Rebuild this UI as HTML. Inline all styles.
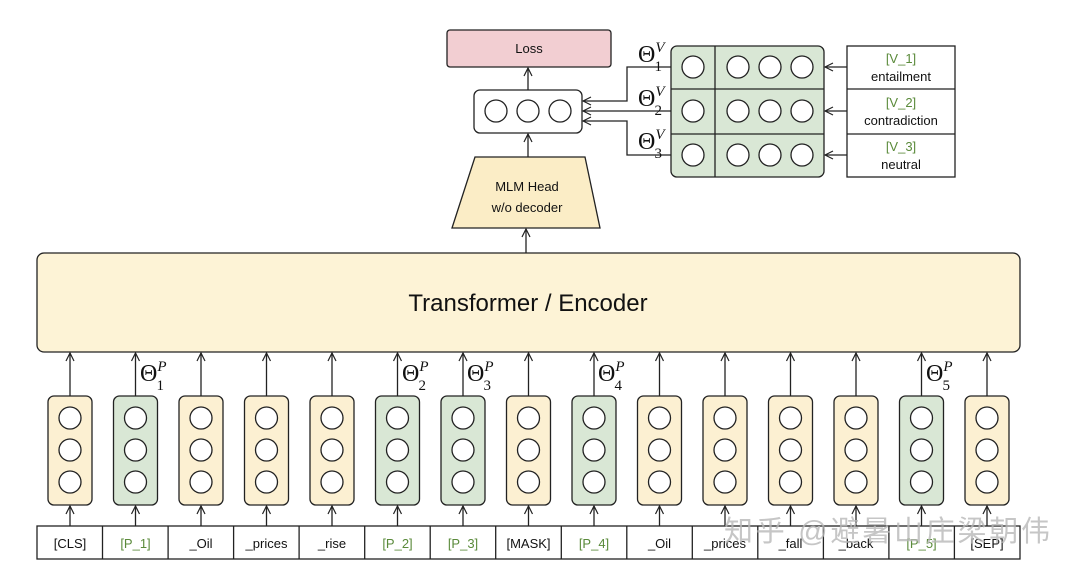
<!DOCTYPE html>
<html><head><meta charset="utf-8"><style>
html,body{margin:0;padding:0;background:#fff;}
svg{display:block;}
text{font-family:"Liberation Sans",sans-serif;fill:#111;}
.th{font-family:"Liberation Serif",serif;font-size:24px;}
.g{fill:#5a8a3a;}
</style></head><body>
<svg width="1080" height="573" viewBox="0 0 1080 573" xmlns="http://www.w3.org/2000/svg">
<defs>
<marker id="a" markerWidth="10" markerHeight="10" refX="9" refY="5" orient="auto" markerUnits="userSpaceOnUse">
<path d="M1,1 L9,5 L1,9" fill="none" stroke="#222" stroke-width="1.2"/>
</marker>
<g id="cy">
<rect x="-22" y="396" width="44" height="109" rx="6" fill="#fcf0d2" stroke="#222" stroke-width="1.3"/>
<circle cx="0" cy="418" r="11" fill="#fff" stroke="#222" stroke-width="1.3"/>
<circle cx="0" cy="450" r="11" fill="#fff" stroke="#222" stroke-width="1.3"/>
<circle cx="0" cy="482" r="11" fill="#fff" stroke="#222" stroke-width="1.3"/>
<line x1="0" y1="396" x2="0" y2="353" stroke="#222" stroke-width="1.3" marker-end="url(#a)"/>
<line x1="0" y1="526" x2="0" y2="506" stroke="#222" stroke-width="1.3" marker-end="url(#a)"/>
</g>
<g id="cg">
<rect x="-22" y="396" width="44" height="109" rx="6" fill="#d9e7d5" stroke="#222" stroke-width="1.3"/>
<circle cx="0" cy="418" r="11" fill="#fff" stroke="#222" stroke-width="1.3"/>
<circle cx="0" cy="450" r="11" fill="#fff" stroke="#222" stroke-width="1.3"/>
<circle cx="0" cy="482" r="11" fill="#fff" stroke="#222" stroke-width="1.3"/>
<line x1="0" y1="396" x2="0" y2="353" stroke="#222" stroke-width="1.3" marker-end="url(#a)"/>
<line x1="0" y1="526" x2="0" y2="506" stroke="#222" stroke-width="1.3" marker-end="url(#a)"/>
</g>
</defs>
<g stroke="#222" stroke-width="1.3">
<rect x="447" y="30" width="164" height="37" rx="3" fill="#f2ced2"/>
<rect x="474" y="90" width="108" height="43" rx="6" fill="#fff"/>
<circle cx="496" cy="111" r="11" fill="#fff"/>
<circle cx="528" cy="111" r="11" fill="#fff"/>
<circle cx="560" cy="111" r="11" fill="#fff"/>
<line x1="528" y1="90" x2="528" y2="68" marker-end="url(#a)"/>
<path d="M475,157 L585,157 L600,228 L452,228 Z" fill="#fbedc6"/>
<line x1="528" y1="157" x2="528" y2="134" marker-end="url(#a)"/>
<line x1="526" y1="253" x2="526" y2="229" marker-end="url(#a)"/>
<rect x="671" y="46" width="153" height="131" rx="6" fill="#d9e7d5"/>
<line x1="715" y1="46" x2="715" y2="177"/>
<line x1="671" y1="89" x2="824" y2="89"/>
<line x1="671" y1="134" x2="824" y2="134"/>
<rect x="847" y="46" width="108" height="131" fill="#fff"/>
<line x1="847" y1="89" x2="955" y2="89"/>
<line x1="847" y1="134" x2="955" y2="134"/>
<line x1="847" y1="67" x2="825" y2="67" marker-end="url(#a)"/>
<line x1="847" y1="111" x2="825" y2="111" marker-end="url(#a)"/>
<line x1="847" y1="155" x2="825" y2="155" marker-end="url(#a)"/>
<polyline points="671,67 627,67 627,101 583,101" fill="none" marker-end="url(#a)"/>
<line x1="671" y1="111" x2="583" y2="111" marker-end="url(#a)"/>
<polyline points="671,155 627,155 627,121 583,121" fill="none" marker-end="url(#a)"/>
<rect x="37" y="253" width="983" height="99" rx="7" fill="#fdf3d6"/>
</g>
<g fill="#fff" stroke="#222" stroke-width="1.3">
<circle cx="693" cy="67" r="11"/><circle cx="738" cy="67" r="11"/><circle cx="770" cy="67" r="11"/><circle cx="802" cy="67" r="11"/>
<circle cx="693" cy="111" r="11"/><circle cx="738" cy="111" r="11"/><circle cx="770" cy="111" r="11"/><circle cx="802" cy="111" r="11"/>
<circle cx="693" cy="155" r="11"/><circle cx="738" cy="155" r="11"/><circle cx="770" cy="155" r="11"/><circle cx="802" cy="155" r="11"/>
</g>
<text x="529" y="53" font-size="13" text-anchor="middle">Loss</text>
<text x="527" y="191" font-size="13" text-anchor="middle">MLM Head</text>
<text x="527" y="212" font-size="13" text-anchor="middle">w/o decoder</text>
<text x="901" y="63" font-size="13" text-anchor="middle" class="g">[V_1]</text>
<text x="901" y="81" font-size="13" text-anchor="middle">entailment</text>
<text x="901" y="107" font-size="13" text-anchor="middle" class="g">[V_2]</text>
<text x="901" y="125" font-size="13" text-anchor="middle">contradiction</text>
<text x="901" y="151" font-size="13" text-anchor="middle" class="g">[V_3]</text>
<text x="901" y="169" font-size="13" text-anchor="middle">neutral</text>
<text x="638" y="62" class="th">Θ<tspan font-size="15" font-style="italic" dy="-10">V</tspan><tspan font-size="15" dx="-10" dy="19">1</tspan></text>
<text x="638" y="106" class="th">Θ<tspan font-size="15" font-style="italic" dy="-10">V</tspan><tspan font-size="15" dx="-10" dy="19">2</tspan></text>
<text x="638" y="149" class="th">Θ<tspan font-size="15" font-style="italic" dy="-10">V</tspan><tspan font-size="15" dx="-10" dy="19">3</tspan></text>
<text x="528" y="311" font-size="24" text-anchor="middle">Transformer / Encoder</text>

<use href="#cy" x="70"/>
<use href="#cg" x="135.5"/>
<use href="#cy" x="201"/>
<use href="#cy" x="266.5"/>
<use href="#cy" x="332"/>
<use href="#cg" x="397.5"/>
<use href="#cg" x="463"/>
<use href="#cy" x="528.5"/>
<use href="#cg" x="594"/>
<use href="#cy" x="659.5"/>
<use href="#cy" x="725"/>
<use href="#cy" x="790.5"/>
<use href="#cy" x="856"/>
<use href="#cg" x="921.5"/>
<use href="#cy" x="987"/>

<text x="140" y="381" class="th">Θ<tspan font-size="15" font-style="italic" dy="-10">P</tspan><tspan font-size="15" dx="-10" dy="19">1</tspan></text>
<text x="402" y="381" class="th">Θ<tspan font-size="15" font-style="italic" dy="-10">P</tspan><tspan font-size="15" dx="-10" dy="19">2</tspan></text>
<text x="467" y="381" class="th">Θ<tspan font-size="15" font-style="italic" dy="-10">P</tspan><tspan font-size="15" dx="-10" dy="19">3</tspan></text>
<text x="598" y="381" class="th">Θ<tspan font-size="15" font-style="italic" dy="-10">P</tspan><tspan font-size="15" dx="-10" dy="19">4</tspan></text>
<text x="926" y="381" class="th">Θ<tspan font-size="15" font-style="italic" dy="-10">P</tspan><tspan font-size="15" dx="-10" dy="19">5</tspan></text>

<g stroke="#222" stroke-width="1.3">
<rect x="37" y="526" width="983" height="33" fill="#fff"/>
<line x1="102.5" y1="526" x2="102.5" y2="559"/>
<line x1="168.1" y1="526" x2="168.1" y2="559"/>
<line x1="233.6" y1="526" x2="233.6" y2="559"/>
<line x1="299.1" y1="526" x2="299.1" y2="559"/>
<line x1="364.7" y1="526" x2="364.7" y2="559"/>
<line x1="430.2" y1="526" x2="430.2" y2="559"/>
<line x1="495.7" y1="526" x2="495.7" y2="559"/>
<line x1="561.3" y1="526" x2="561.3" y2="559"/>
<line x1="626.8" y1="526" x2="626.8" y2="559"/>
<line x1="692.3" y1="526" x2="692.3" y2="559"/>
<line x1="757.8" y1="526" x2="757.8" y2="559"/>
<line x1="823.4" y1="526" x2="823.4" y2="559"/>
<line x1="888.9" y1="526" x2="888.9" y2="559"/>
<line x1="954.4" y1="526" x2="954.4" y2="559"/>
</g>
<g font-size="13" text-anchor="middle">
<text x="70" y="548">[CLS]</text>
<text x="135.5" y="548" class="g">[P_1]</text>
<text x="201" y="548">_Oil</text>
<text x="266.5" y="548">_prices</text>
<text x="332" y="548">_rise</text>
<text x="397.5" y="548" class="g">[P_2]</text>
<text x="463" y="548" class="g">[P_3]</text>
<text x="528.5" y="548">[MASK]</text>
<text x="594" y="548" class="g">[P_4]</text>
<text x="659.5" y="548">_Oil</text>
<text x="725" y="548">_prices</text>
<text x="790.5" y="548">_fall</text>
<text x="856" y="548">_back</text>
<text x="921.5" y="548" class="g">[P_5]</text>
<text x="987" y="548">[SEP]</text>
</g>
<text x="724" y="541" font-size="29" textLength="326" style="fill:#b8b8b8;opacity:0.8;font-family:'Liberation Sans','Noto Sans CJK SC',sans-serif">知乎 @避暑山庄梁朝伟</text>
</svg>
</body></html>
